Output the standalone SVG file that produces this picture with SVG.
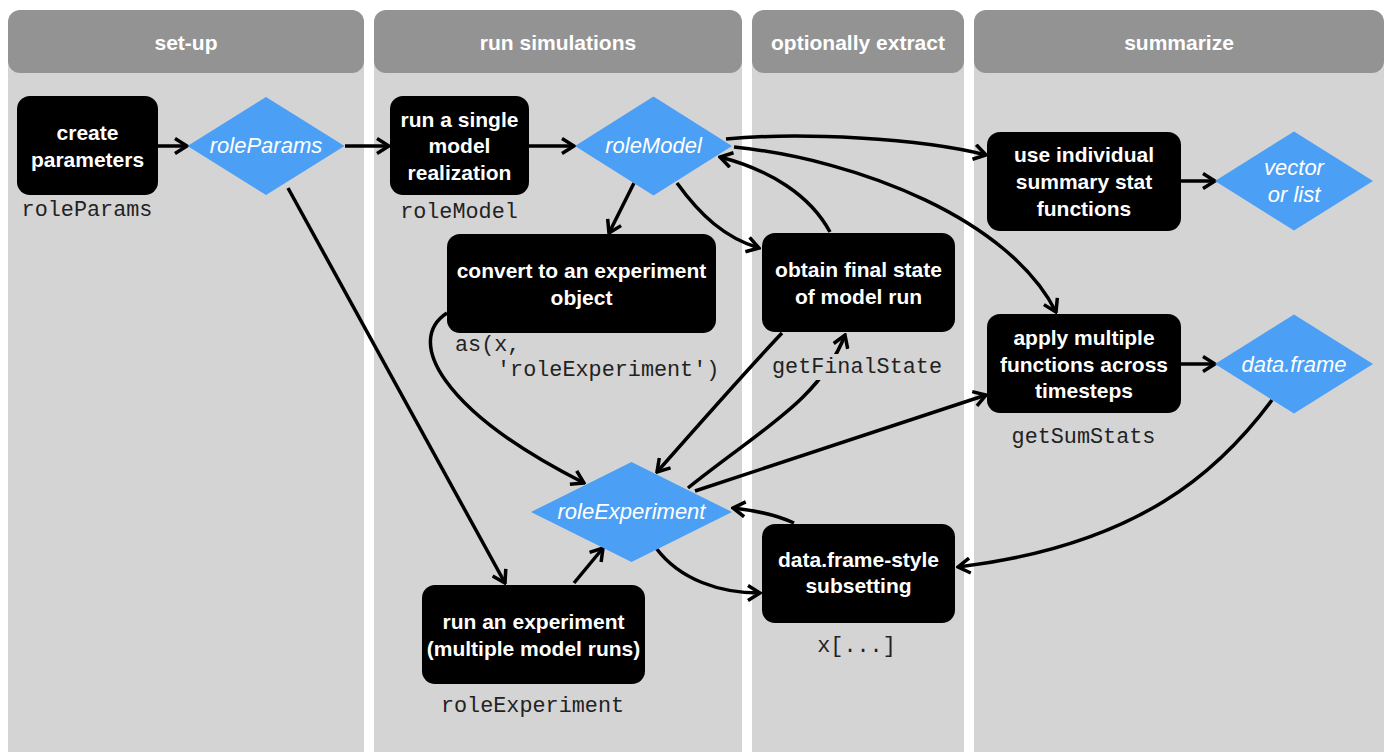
<svg xmlns="http://www.w3.org/2000/svg" width="1390" height="756" viewBox="0 0 1390 756">
<style>
.col{fill:#d4d4d4}
.hdr{fill:#939393}
.ht{font-family:"Liberation Sans",Arial,sans-serif;font-weight:bold;font-size:21px;fill:#fff;text-anchor:middle}
.box{fill:#000}
.bt{font-family:"Liberation Sans",Arial,sans-serif;font-weight:bold;font-size:21px;fill:#fff;text-anchor:middle}
.dia{fill:#4b9ff5}
.dt{font-family:"Liberation Sans",Arial,sans-serif;font-style:italic;font-size:22px;fill:#fff;text-anchor:middle}
.mono{font-family:"Liberation Mono","Courier New",monospace;font-size:21.8px;fill:#222}
.edge{fill:none;stroke:#000;stroke-width:3.5;marker-end:url(#ah)}
</style>
<defs>
<marker id="ah" markerUnits="userSpaceOnUse" viewBox="0 0 16 18" refX="14" refY="9" markerWidth="16" markerHeight="18" orient="auto">
<path d="M2,1.5 L14,9 L2,16.5" fill="none" stroke="#000" stroke-width="3.5"/>
</marker>
</defs>
<rect width="1390" height="756" fill="#fff"/>
<g id="lanes">
<rect class="col" x="8" y="40" width="356" height="712"/>
<rect class="hdr" x="8" y="10" width="356" height="63" rx="12"/>
<text class="ht" x="186" y="50">set-up</text>
<rect class="col" x="374" y="40" width="368" height="712"/>
<rect class="hdr" x="374" y="10" width="368" height="63" rx="12"/>
<text class="ht" x="558" y="50">run simulations</text>
<rect class="col" x="752" y="40" width="212" height="712"/>
<rect class="hdr" x="752" y="10" width="212" height="63" rx="12"/>
<text class="ht" x="858" y="50">optionally extract</text>
<rect class="col" x="974" y="40" width="410" height="712"/>
<rect class="hdr" x="974" y="10" width="410" height="63" rx="12"/>
<text class="ht" x="1179" y="50">summarize</text>
</g>
<g id="connectors">
<path class="edge" d="M158,146 L187,146"/>
<path class="edge" d="M345,146 L389,146"/>
<path class="edge" d="M529,146 L574,146"/>
<path class="edge" d="M634,183 L609,233"/>
<path class="edge" d="M677,183 C700,215 725,238 759,248"/>
<path class="edge" d="M830,232 C810,195 770,170 720,157"/>
<path class="edge" d="M726,139 C800,132 920,138 986,155"/>
<path class="edge" d="M734,147 C860,160 1010,220 1056,312"/>
<path class="edge" d="M447,313 C405,340 440,410 584,483"/>
<path class="edge" d="M288,188 L505,583"/>
<path class="edge" d="M574,583 L603,548"/>
<path class="edge" d="M656,548 C680,580 720,593 760,593"/>
<path class="edge" d="M794,523 Q770,512 733,508"/>
<path class="edge" d="M1272,400 C1220,470 1140,545 958,567"/>
<path class="edge" d="M782,333 Q745,372 657,472"/>
<path class="edge" d="M688,488 C760,430 820,400 845,335"/>
<path class="edge" d="M695,491 L986,395"/>
<path class="edge" d="M1181,181 L1215,181"/>
<path class="edge" d="M1181,364 L1215,364"/>
</g>
<g id="n-create">
<rect class="box" x="17" y="96" width="141" height="99" rx="13"/>
<text class="bt" x="87.5" y="140">create</text>
<text class="bt" x="87.5" y="167">parameters</text>
<text class="mono" x="87" y="216" text-anchor="middle">roleParams</text>
</g>
<g id="n-roleParams">
<polygon class="dia" points="187.5,146 266,97 344.5,146 266,195"/>
<text class="dt" x="266" y="153">roleParams</text>
</g>
<g id="n-runsingle">
<rect class="box" x="390" y="96" width="139" height="99" rx="13"/>
<text class="bt" x="459.5" y="127">run a single</text>
<text class="bt" x="459.5" y="153">model</text>
<text class="bt" x="459.5" y="180">realization</text>
<text class="mono" x="459" y="218" text-anchor="middle">roleModel</text>
</g>
<g id="n-roleModel">
<polygon class="dia" points="575,146 653.5,96.5 732,146 653.5,195.5"/>
<text class="dt" x="653.5" y="153">roleModel</text>
</g>
<g id="n-convert">
<rect class="box" x="447" y="234" width="269" height="99" rx="13"/>
<text class="bt" x="581.5" y="278">convert to an experiment</text>
<text class="bt" x="581.5" y="305">object</text>
<text class="mono" x="455" y="351">as(x,</text>
<text class="mono" x="497" y="376">'roleExperiment')</text>
</g>
<g id="n-obtain">
<rect class="box" x="762" y="233" width="193" height="99" rx="13"/>
<text class="bt" x="858.5" y="277">obtain final state</text>
<text class="bt" x="858.5" y="304">of model run</text>
<rect class="col" x="768" y="354" width="178" height="26"/>
<text class="mono" x="857" y="373" text-anchor="middle">getFinalState</text>
</g>
<g id="n-roleExperiment">
<polygon class="dia" points="531,512 631.5,462 732,512 631.5,562"/>
<text class="dt" x="631.5" y="519">roleExperiment</text>
</g>
<g id="n-runexp">
<rect class="box" x="422" y="585" width="223" height="99" rx="13"/>
<text class="bt" x="533.5" y="629">run an experiment</text>
<text class="bt" x="533.5" y="656">(multiple model runs)</text>
<text class="mono" x="532.5" y="712" text-anchor="middle">roleExperiment</text>
</g>
<g id="n-subset">
<rect class="box" x="762" y="524" width="193" height="99" rx="13"/>
<text class="bt" x="858.5" y="567">data.frame-style</text>
<text class="bt" x="858.5" y="593">subsetting</text>
<text class="mono" x="856.5" y="652" text-anchor="middle">x[...]</text>
</g>
<g id="n-useind">
<rect class="box" x="987" y="132" width="194" height="99" rx="13"/>
<text class="bt" x="1084" y="162">use individual</text>
<text class="bt" x="1084" y="189">summary stat</text>
<text class="bt" x="1084" y="216">functions</text>
</g>
<g id="n-vector">
<polygon class="dia" points="1215,181 1294,131.5 1373,181 1294,230.5"/>
<text class="dt" x="1294" y="175">vector</text>
<text class="dt" x="1294" y="202">or list</text>
</g>
<g id="n-apply">
<rect class="box" x="987" y="314" width="194" height="99" rx="13"/>
<text class="bt" x="1084" y="345">apply multiple</text>
<text class="bt" x="1084" y="372">functions across</text>
<text class="bt" x="1084" y="398">timesteps</text>
<text class="mono" x="1083.5" y="443" text-anchor="middle">getSumStats</text>
</g>
<g id="n-dataframe">
<polygon class="dia" points="1215,364 1294,314.5 1373,364 1294,413.5"/>
<text class="dt" x="1294" y="372">data.frame</text>
</g>
</svg>
